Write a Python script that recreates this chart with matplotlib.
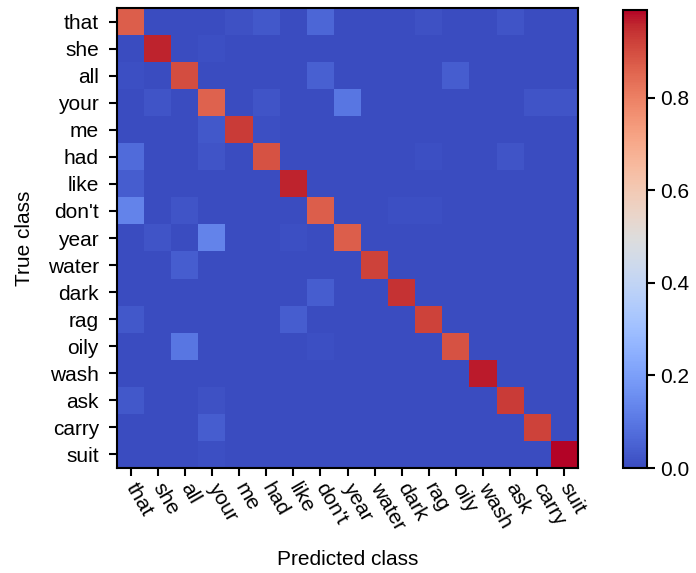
import matplotlib
matplotlib.use("Agg")
import matplotlib.pyplot as plt
import numpy as np

plt.rcParams['font.family'] = ['Liberation Sans', 'DejaVu Sans']

classes = ["that", "she", "all", "your", "me", "had", "like", "don't", "year",
           "water", "dark", "rag", "oily", "wash", "ask", "carry", "suit"]

# diagonal (correct predictions) per class
diag = [0.87, 0.96, 0.90, 0.86, 0.93, 0.89, 0.96, 0.87, 0.87,
        0.92, 0.94, 0.92, 0.89, 0.97, 0.93, 0.92, 0.99]

# notable confusions: (true, predicted, rate)
confusions = [
    ("that", "me", 0.015), ("that", "had", 0.03), ("that", "don't", 0.06),
    ("that", "rag", 0.015), ("that", "ask", 0.02),
    ("she", "your", 0.01),
    ("all", "that", 0.01), ("all", "don't", 0.05), ("all", "oily", 0.04),
    ("your", "she", 0.02), ("your", "had", 0.02), ("your", "year", 0.10),
    ("your", "carry", 0.02), ("your", "suit", 0.02),
    ("me", "your", 0.03), ("me", "had", 0.01),
    ("had", "that", 0.07), ("had", "your", 0.02), ("had", "rag", 0.01),
    ("had", "ask", 0.02),
    ("like", "that", 0.04),
    ("don't", "that", 0.13), ("don't", "all", 0.02), ("don't", "dark", 0.01),
    ("don't", "rag", 0.01),
    ("year", "she", 0.02), ("year", "your", 0.13), ("year", "like", 0.01),
    ("water", "all", 0.04),
    ("dark", "don't", 0.04),
    ("rag", "that", 0.03), ("rag", "like", 0.04),
    ("oily", "all", 0.10), ("oily", "don't", 0.01),
    ("ask", "that", 0.03), ("ask", "your", 0.015),
    ("carry", "your", 0.04),
    ("suit", "your", 0.01),
]

n = len(classes)
cm = np.zeros((n, n))
cm[np.arange(n), np.arange(n)] = diag
for t, p, v in confusions:
    cm[classes.index(t), classes.index(p)] = v

fig = plt.figure(figsize=(6.96, 5.73), dpi=100)
ax = fig.add_axes([117 / 696, 1 - 468 / 573, 461 / 696, 460 / 573])
cax = fig.add_axes([623 / 696, 1 - 468 / 573, 24 / 696, 458 / 573])

im = ax.imshow(cm, cmap="coolwarm", interpolation="nearest", aspect="auto")
cb = fig.colorbar(im, cax=cax, ticks=[0.0, 0.2, 0.4, 0.6, 0.8])
cb.ax.tick_params(labelsize=15, width=1.5, length=6)
cb.outline.set_linewidth(1.5)

ax.set_xticks(np.arange(n))
ax.set_yticks(np.arange(n))
ax.set_xticklabels(classes, rotation=-60, ha="left", va="center",
                   rotation_mode="anchor", fontsize=15)
ax.set_yticklabels(classes, fontsize=15)
ax.tick_params(width=1.5, length=6)
ax.tick_params(axis="y", pad=7)
ax.tick_params(axis="x", pad=6)
for s in ax.spines.values():
    s.set_linewidth(1.5)

ax.set_xlabel("Predicted class", fontsize=15, labelpad=12)
ax.set_ylabel("True class", fontsize=15, labelpad=10)

fig.savefig("out.png", dpi=100)
